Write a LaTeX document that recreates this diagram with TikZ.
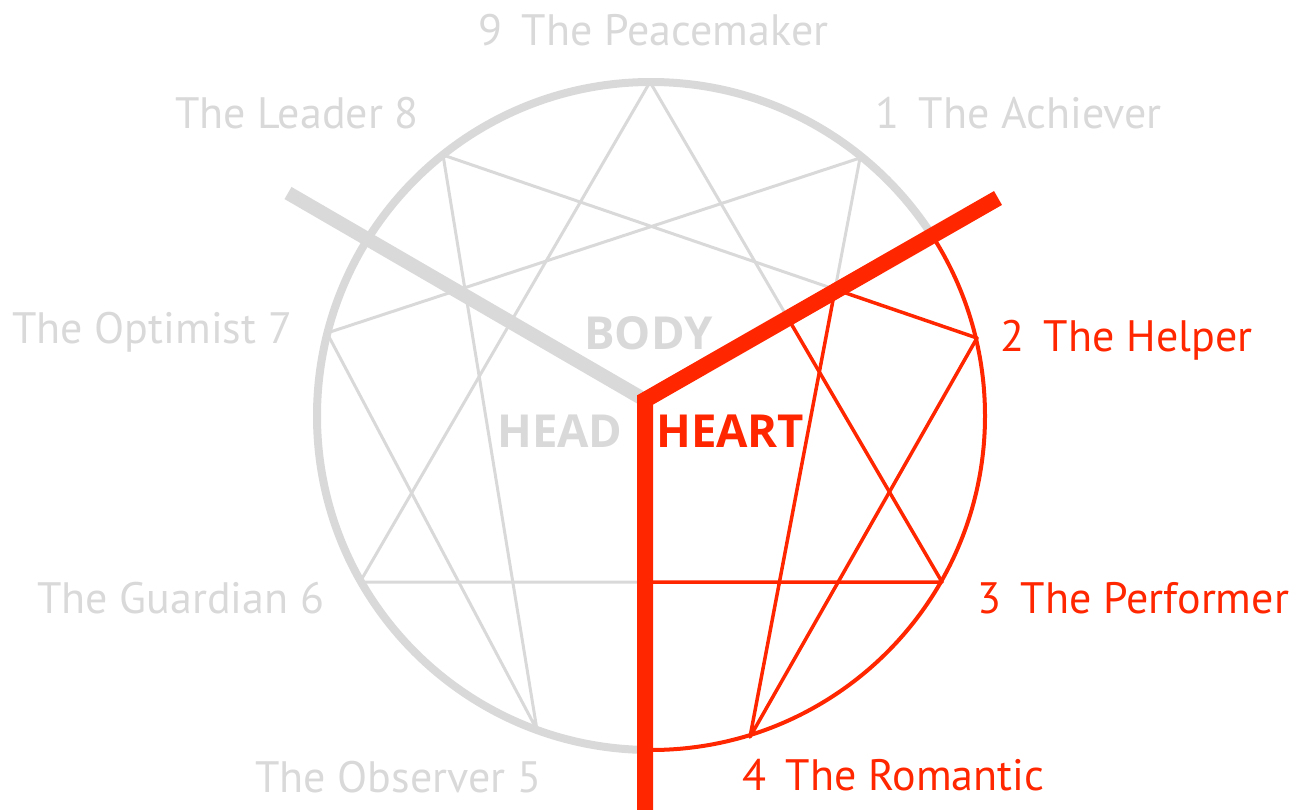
\documentclass[tikz,border=0pt]{standalone}
\usepackage{fontspec}
\setmainfont{PT Sans}
\newfontfamily\boldfam{Open Sans}
\definecolor{lg}{RGB}{217,217,217}
\definecolor{rd}{RGB}{255,38,0}
\newcommand\enneafig[2]{%
  \draw[#1] (o) circle[radius=334pt];
  \draw[#2] (p1) -- (p4) -- (p2) -- (p8) -- (p5) -- (p7) -- cycle;
  \draw[#2] (p9) -- (p3) -- (p6) -- cycle;
}
\begin{document}
\begin{tikzpicture}[x=1pt,y=-1pt,
  gcirc/.style={draw=lg,line width=8pt},
  gline/.style={draw=lg,line width=3pt,line join=round},
  rcirc/.style={draw=rd,line width=4pt},
  rline/.style={draw=rd,line width=3.5pt,line join=round},
  lab/.style={font=\fontsize{44}{50}\selectfont,inner sep=0pt,anchor=base west},
  glab/.style={lab,text=lg},
  rlab/.style={lab,text=rd},
  blab/.style={font=\boldfam\fontsize{45.5}{50}\selectfont\bfseries,inner sep=0pt,anchor=base west}]
\useasboundingbox (0,0) rectangle (1304,809);
\coordinate (o) at (651,416);
\coordinate (p9) at (650,82);
\coordinate (p1) at (860,158);
\coordinate (p2) at (977,338);
\coordinate (p3) at (942,582);
\coordinate (p4) at (750,737);
\coordinate (p5) at (537,730);
\coordinate (p6) at (360,582);
\coordinate (p7) at (327,333);
\coordinate (p8) at (443,155);
\coordinate (c) at (645,400);
\coordinate (tr) at (998,198);
\coordinate (tg) at (288,193);
\coordinate (bt) at (645,830);
% gray part
\begin{scope}
  \clip (c) -- (645,1000) -- (-200,1000) -- (-200,-100) -- (1519,-100) -- cycle;
  \enneafig{gcirc}{gline}
\end{scope}
% red part
\begin{scope}
  \clip (c) -- (1519,-100) -- (1519,1000) -- (645,1000) -- cycle;
  \enneafig{rcirc}{rline}
\end{scope}
% centres
\draw[lg,line width=14pt] (tg) -- (c);
\draw[rd,line width=16pt,line join=miter] (tr) -- (c) -- (bt);
% labels
\node[glab] (l9) at (478,45) {9\hspace{0.45em}The Peacemaker};
\node[glab] (l8) at (175,128) {The Leader 8};
\node[glab] (l1) at (875,128) {1\hspace{0.45em}The Achiever};
\node[glab] (l7) at (12,343) {The Optimist 7};
\node[rlab] (l2) at (1000,351) {2\hspace{0.45em}The Helper};
\node[glab] (l6) at (37,613) {The Guardian 6};
\node[rlab] (l3) at (977,613) {3\hspace{0.45em}The Performer};
\node[glab] (l5) at (255,792) {The Observer 5};
\node[rlab] (l4) at (742,790) {4\hspace{0.45em}The Romantic};
\node[blab,text=lg] (body) at (584,349) {BODY};
\node[blab,text=lg] (head) at (497,447) {HEAD};
\node[blab,text=rd] (heart) at (656,447) {HEART};
\end{tikzpicture}
\end{document}
